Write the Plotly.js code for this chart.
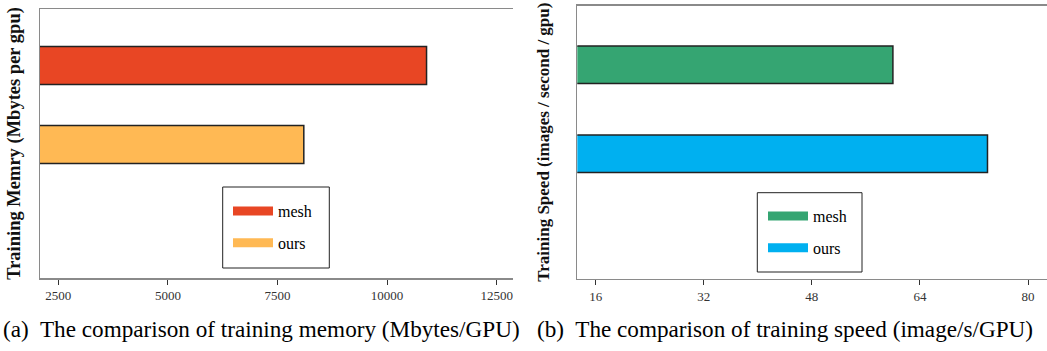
<!DOCTYPE html>
<html>
<head>
<meta charset="utf-8">
<script src="https://cdn.plot.ly/plotly-3.0.1.min.js"></script>
<style>html,body{margin:0;padding:0;background:#fff;}#chart{width:1047px;height:351px;}</style>
</head>
<body>
<div id="chart"></div>
<script>
// ---- data ----
const categories = ['mesh', 'ours'];
const memoryValues = [10900, 8100];      // Mbytes per GPU
const speedValues = [60, 74];            // images / second / GPU
const memoryTicks = [2500, 5000, 7500, 10000, 12500];
const speedTicks = [16, 32, 48, 64, 80];
const memoryTitle = 'Training Memry (Mbytes per gpu)';
const speedTitle = 'Training Speed (images / second / gpu)';
const captionA = '(a)  The comparison of training memory (Mbytes/GPU)';
const captionB = '(b)  The comparison of training speed (image/s/GPU)';

// ---- style ----
const memColors = ['#E84624', '#FFB954'];
const speedColors = ['#35A572', '#00B0F0'];
const serif = 'Liberation Serif, Times New Roman, serif';
const W = 1047, H = 351;
const px = v => v / W, py = v => 1 - v / H;

const traces = [
  {type: 'bar', orientation: 'h', y: categories, x: memoryValues, width: 0.48,
   marker: {color: memColors, line: {color: '#222', width: 1.5}},
   xaxis: 'x', yaxis: 'y', showlegend: false, hoverinfo: 'x+y'},
  {type: 'bar', orientation: 'h', y: categories, x: speedValues, width: 0.42,
   marker: {color: speedColors, line: {color: '#222', width: 1.5}},
   xaxis: 'x2', yaxis: 'y2', showlegend: false, hoverinfo: 'x+y'}
];
// legend entries
categories.forEach((c, i) => {
  traces.push({type: 'scatter', mode: 'lines', x: [null], y: [null], name: c,
    line: {color: memColors[i], width: 9}, xaxis: 'x', yaxis: 'y',
    legend: 'legend', legendgroup: 'a' + i});
  traces.push({type: 'scatter', mode: 'lines', x: [null], y: [null], name: c,
    line: {color: speedColors[i], width: 9}, xaxis: 'x2', yaxis: 'y2',
    legend: 'legend2', legendgroup: 'b' + i});
});

const xCommon = {
  showline: true, linecolor: '#8a8a8a', linewidth: 1.5, mirror: true,
  ticks: 'outside', ticklen: 5, tickcolor: '#333', tickwidth: 1,
  showgrid: false, zeroline: false,
  tickfont: {family: serif, size: 13, color: '#333'}, fixedrange: true
};
const yCommon = {
  showline: true, linecolor: '#8a8a8a', linewidth: 1.5,
  showticklabels: false, ticks: '', showgrid: false, zeroline: false,
  type: 'category', categoryorder: 'array', categoryarray: categories, fixedrange: true
};
const legendCommon = {
  bgcolor: 'rgba(0,0,0,0)', borderwidth: 0,
  font: {family: serif, size: 16, color: '#000'}, itemwidth: 40,
  traceorder: 'grouped', tracegroupgap: 8, xanchor: 'left', yanchor: 'top'
};
const boxStyle = {type: 'rect', xref: 'paper', yref: 'paper', layer: 'above',
  line: {color: '#222', width: 1}, fillcolor: '#fff'};

const layout = {
  width: W, height: H, margin: {l: 0, r: 0, t: 0, b: 0},
  paper_bgcolor: '#fff', plot_bgcolor: '#fff', bargap: 0,
  xaxis: Object.assign({}, xCommon, {domain: [px(40), px(513)], range: [2082, 12872],
    tickvals: memoryTicks, ticktext: memoryTicks.map(String), anchor: 'y'}),
  yaxis: Object.assign({}, yCommon, {domain: [1 - 278 / H, 1 - 9 / H], range: [2.69, -0.715], anchor: 'x',
    title: {text: memoryTitle, standoff: 13, font: {family: serif, size: 18.5, color: '#111', weight: 'bold'}}}),
  xaxis2: Object.assign({}, xCommon, {domain: [px(577.3), 1], range: [13.28, 82.81], mirror: true,
    tickvals: speedTicks, ticktext: speedTicks.map(String), anchor: 'y2'}),
  yaxis2: Object.assign({}, yCommon, {domain: [1 - 278.7 / H, 1 - 5.7 / H], range: [2.404, -0.663], anchor: 'x2',
    title: {text: speedTitle, standoff: 22, font: {family: serif, size: 17, color: '#111', weight: 'bold'}}}),
  legend: Object.assign({}, legendCommon, {x: px(228), y: py(194)}),
  legend2: Object.assign({}, legendCommon, {x: px(763), y: py(199)}),
  shapes: [
    Object.assign({}, boxStyle, {x0: px(222.7), x1: px(329.3), y0: py(268), y1: py(187)}),
    Object.assign({}, boxStyle, {x0: px(757.3), x1: px(862), y0: py(272), y1: py(192.7)})
  ],
  annotations: [
    {text: captionA, xref: 'paper', yref: 'paper', x: px(261), y: py(329), xanchor: 'center', yanchor: 'middle',
     showarrow: false, font: {family: serif, size: 23.2, color: '#000'}},
    {text: captionB, xref: 'paper', yref: 'paper', x: px(785), y: py(329), xanchor: 'center', yanchor: 'middle',
     showarrow: false, font: {family: serif, size: 23.2, color: '#000'}}
  ]
};

Plotly.newPlot('chart', traces, layout, {displayModeBar: false, staticPlot: true});
</script>
</body>
</html>
